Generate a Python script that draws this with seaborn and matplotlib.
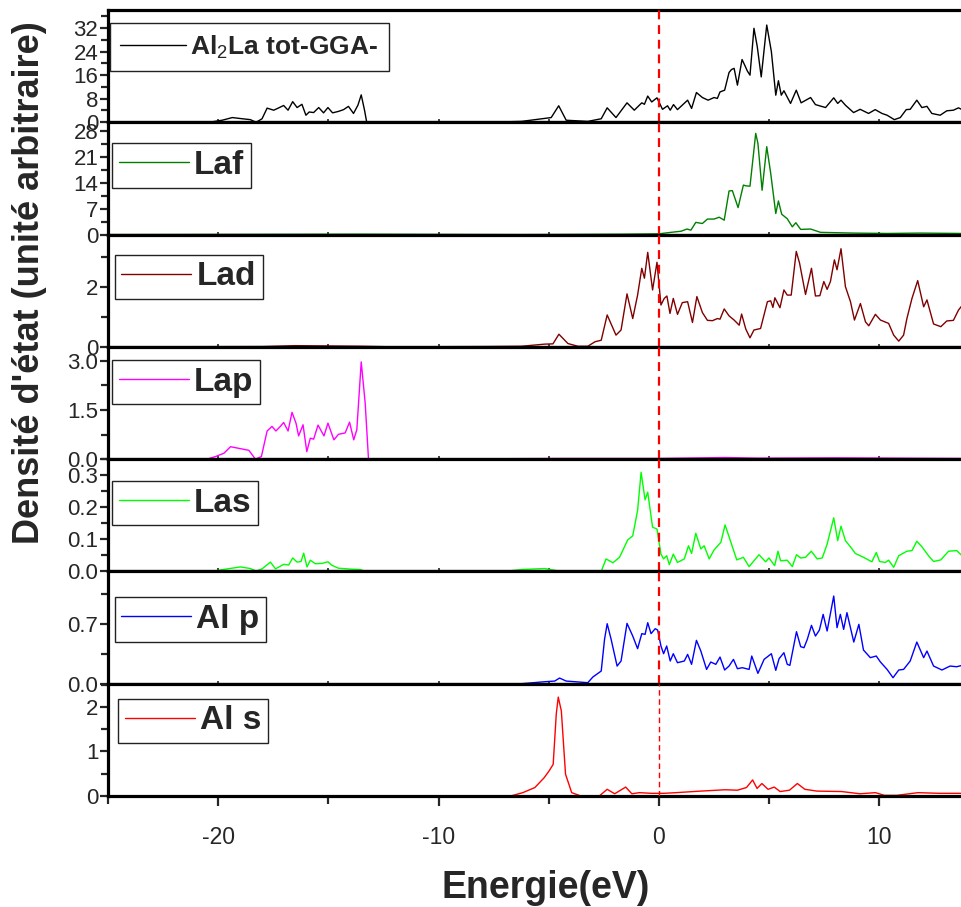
import matplotlib
matplotlib.use("Agg")
import matplotlib.pyplot as plt
from matplotlib import font_manager
from matplotlib.font_manager import FontProperties
from matplotlib.ticker import MultipleLocator, FormatStrFormatter
import pandas as pd
import seaborn as sns

# ---- density of states (energy in eV, DOS in arbitrary units) ----
TOT = [(-25, 0), (-20.42, 0), (-19.82, 0.7), (-19.36, 1.6), (-18.91, 1.2), (-18.54, 0.9),
       (-18.28, 0), (-18.01, 1.2), (-17.78, 4.8), (-17.48, 4.1), (-17.25, 4.9), (-17.03, 5.7),
       (-16.83, 4.1), (-16.62, 7.0), (-16.42, 5.0), (-16.20, 6.1), (-16.02, 2.4), (-15.87, 3.5),
       (-15.67, 3.3), (-15.44, 5.0), (-15.22, 3.2), (-15.02, 5.0), (-14.81, 3.2), (-14.54, 3.7),
       (-14.31, 4.3), (-14.09, 5.4), (-13.86, 3.0), (-13.66, 5.8), (-13.51, 9.3), (-13.36, 4.1),
       (-13.26, 0), (-10, 0), (-7.5, 0.05), (-6.24, 0.3), (-4.89, 1.6), (-4.55, 5.6), (-4.21, 0.7),
       (-3.23, 0.3), (-2.62, 1.2), (-2.35, 4.9), (-1.95, 1.6), (-1.45, 6.6), (-1.12, 4.1),
       (-0.78, 6.6), (-0.66, 6.1), (-0.51, 8.9), (-0.33, 6.9), (-0.09, 8.3), (0.16, 4.4),
       (0.39, 5.6), (0.51, 4.1), (0.66, 6.0), (0.84, 4.3), (1.30, 7.5), (1.48, 4.7), (1.70, 10.1),
       (1.97, 8.4), (2.23, 7.5), (2.50, 8.4), (2.65, 8.1), (2.77, 10.3), (2.98, 10.9), (3.18, 16.9),
       (3.29, 17.9), (3.41, 18.3), (3.56, 12.6), (3.77, 21.3), (3.89, 19.4), (4.01, 17.4),
       (4.13, 16.0), (4.31, 31.9), (4.46, 25.7), (4.64, 15.4), (4.89, 33.0), (5.10, 24.0),
       (5.30, 9.2), (5.42, 14.1), (5.55, 9.2), (5.67, 10.7), (5.97, 6.4), (6.23, 10.9), (6.45, 6.6),
       (6.88, 8.4), (7.10, 6.0), (7.56, 5.0), (7.93, 8.3), (8.11, 6.4), (8.26, 7.5), (8.46, 5.8),
       (8.83, 3.3), (9.13, 4.4), (9.51, 3.0), (9.81, 4.3), (10.12, 3.0), (10.35, 2.4), (10.68, 0.9),
       (10.95, 1.6), (11.22, 4.3), (11.40, 4.4), (11.70, 7.5), (11.93, 5.0), (12.16, 5.4),
       (12.38, 3.0), (12.76, 2.4), (13.06, 3.9), (13.36, 4.1), (13.59, 4.9), (13.75, 4.3)]

LA_F = [(-25, 0), (-20, 0.05), (-13.5, 0.1), (-6.24, 0), (-1.72, 0.1), (0, 0.2), (0.54, 0.6),
        (1.0, 0.9), (1.27, 1.5), (1.45, 1.2), (1.67, 3.3), (1.97, 3.0), (2.20, 4.2), (2.50, 4.2),
        (2.73, 4.7), (2.96, 3.9), (3.18, 11.8), (3.33, 11.9), (3.59, 7.3), (3.83, 13.4),
        (3.94, 13.2), (4.13, 13.1), (4.39, 27.4), (4.49, 24.7), (4.68, 12.0), (4.89, 23.8),
        (5.07, 16.6), (5.30, 5.7), (5.42, 9.1), (5.57, 5.5), (5.82, 4.3), (6.05, 2.1), (6.21, 3.2),
        (6.43, 1.4), (6.88, 1.5), (7.33, 0.6), (8.08, 0.5), (8.84, 0.4), (10.35, 0.3),
        (11.85, 0.4), (13.75, 0.3)]

LA_D = [(-25, 0), (-18, 0.01), (-16.5, 0.04), (-15, 0.03), (-13.5, 0.02), (-12, 0), (-8, 0.01),
        (-6.24, 0.02), (-5.19, 0.09), (-4.81, 0.1), (-4.54, 0.42), (-4.13, 0.11), (-3.68, 0.02),
        (-3.23, 0.02), (-2.90, 0.17), (-2.62, 0.22), (-2.35, 1.06), (-1.95, 0.39), (-1.72, 0.56),
        (-1.45, 1.76), (-1.19, 0.94), (-0.97, 1.72), (-0.78, 2.61), (-0.66, 2.28), (-0.51, 3.14),
        (-0.29, 1.89), (-0.09, 2.81), (0.09, 1.39), (0.24, 1.61), (0.36, 1.69), (0.50, 1.11),
        (0.65, 1.61), (0.84, 1.08), (1.06, 1.47), (1.30, 1.5), (1.52, 0.81), (1.72, 1.67),
        (1.97, 1.14), (2.20, 0.88), (2.43, 0.87), (2.65, 0.94), (2.77, 0.92), (2.96, 1.26),
        (3.18, 1.03), (3.41, 0.89), (3.64, 0.72), (3.75, 1.09), (3.94, 0.59), (4.13, 0.3),
        (4.31, 0.56), (4.61, 0.61), (4.92, 1.5), (5.07, 1.53), (5.17, 1.31), (5.26, 1.63),
        (5.49, 1.3), (5.67, 1.89), (5.82, 1.72), (6.00, 1.72), (6.23, 3.17), (6.38, 2.78),
        (6.65, 1.74), (6.92, 2.61), (7.10, 1.69), (7.30, 1.7), (7.48, 2.17), (7.63, 1.91),
        (7.78, 2.17), (7.96, 2.89), (8.08, 2.56), (8.26, 3.26), (8.46, 2.0), (8.69, 1.5),
        (8.87, 0.89), (9.14, 1.44), (9.37, 0.83), (9.52, 0.7), (9.82, 1.08), (10.05, 0.89),
        (10.42, 0.78), (10.65, 0.39), (10.88, 0.19), (11.10, 0.39), (11.25, 0.94), (11.48, 1.61),
        (11.74, 2.2), (12.01, 1.33), (12.16, 1.56), (12.46, 0.76), (12.79, 0.67), (13.06, 0.86),
        (13.36, 0.88), (13.59, 1.22), (13.75, 1.37)]

LA_P = [(-25, 0), (-20.5, 0), (-20.12, 0.08), (-19.74, 0.18), (-19.44, 0.38), (-19.14, 0.34),
        (-18.61, 0.27), (-18.31, 0), (-18.04, 0.08), (-17.78, 0.86), (-17.56, 1.0), (-17.38, 0.86),
        (-17.18, 1.0), (-17.03, 1.12), (-16.83, 0.86), (-16.65, 1.43), (-16.47, 1.1),
        (-16.35, 0.71), (-16.15, 1.05), (-15.98, 0.23), (-15.82, 0.64), (-15.67, 0.61),
        (-15.47, 1.04), (-15.20, 0.71), (-15.02, 1.1), (-14.75, 0.59), (-14.54, 0.76),
        (-14.24, 0.8), (-14.04, 1.13), (-13.85, 0.59), (-13.71, 0.9), (-13.51, 2.97),
        (-13.33, 1.71), (-13.18, 0), (-12, 0), (-4.5, 0.02), (0, 0.02), (3, 0.05), (4.5, 0.03),
        (8, 0.04), (13.75, 0.02)]

LA_S = [(-25, 0), (-20.27, 0), (-19.67, 0.007), (-18.99, 0.014), (-18.54, 0.009), (-18.28, 0.001),
        (-18.01, 0.008), (-17.63, 0.029), (-17.40, 0.008), (-17.03, 0.022), (-16.80, 0.02),
        (-16.62, 0.042), (-16.42, 0.029), (-16.24, 0.031), (-16.12, 0.057), (-15.97, 0.014),
        (-15.82, 0.035), (-15.59, 0.024), (-15.29, 0.025), (-15.02, 0.03), (-14.84, 0.019),
        (-14.54, 0.01), (-13.94, 0.007), (-13.56, 0.006), (-13.33, 0), (-7.0, 0), (-6.24, 0.006),
        (-5.19, 0.009), (-4.43, 0), (-2.62, 0), (-2.40, 0.039), (-2.09, 0.027), (-1.79, 0.044),
        (-1.42, 0.098), (-1.19, 0.111), (-0.97, 0.19), (-0.81, 0.309), (-0.63, 0.223),
        (-0.51, 0.247), (-0.29, 0.138), (-0.09, 0.132), (0.09, 0.054), (0.21, 0.039),
        (0.35, 0.049), (0.47, 0.021), (0.65, 0.054), (0.84, 0.028), (1.15, 0.039), (1.34, 0.08),
        (1.48, 0.056), (1.67, 0.119), (1.90, 0.07), (2.05, 0.08), (2.28, 0.039), (2.50, 0.067),
        (2.81, 0.091), (3.00, 0.145), (3.18, 0.108), (3.53, 0.036), (3.83, 0.044), (4.09, 0.015),
        (4.54, 0.052), (4.84, 0.03), (4.99, 0.042), (5.25, 0.018), (5.40, 0.063), (5.52, 0.033),
        (5.82, 0.035), (6.05, 0.015), (6.24, 0.052), (6.43, 0.042), (6.65, 0.044), (6.91, 0.063),
        (7.18, 0.039), (7.41, 0.042), (7.63, 0.085), (7.93, 0.167), (8.11, 0.096), (8.26, 0.141),
        (8.46, 0.096), (8.73, 0.073), (8.91, 0.056), (9.28, 0.044), (9.66, 0.03), (9.86, 0.059),
        (10.01, 0.031), (10.27, 0.028), (10.42, 0.035), (10.65, 0.013), (10.88, 0.049),
        (11.25, 0.063), (11.48, 0.065), (11.70, 0.094), (11.93, 0.077), (12.23, 0.049),
        (12.46, 0.031), (12.79, 0.036), (13.14, 0.063), (13.51, 0.065), (13.75, 0.049)]

AL_P = [(-25, 0), (-6.24, 0), (-5.19, 0.023), (-4.73, 0.031), (-4.51, 0.066), (-4.21, 0.031),
        (-3.23, 0.012), (-3.00, 0.078), (-2.62, 0.148), (-2.47, 0.517), (-2.35, 0.70),
        (-2.17, 0.517), (-1.90, 0.206), (-1.72, 0.265), (-1.45, 0.704), (-1.19, 0.556),
        (-0.97, 0.409), (-0.78, 0.584), (-0.63, 0.576), (-0.51, 0.712), (-0.36, 0.584),
        (-0.17, 0.642), (-0.06, 0.626), (0.09, 0.44), (0.21, 0.35), (0.35, 0.44), (0.51, 0.265),
        (0.65, 0.35), (0.84, 0.245), (1.15, 0.265), (1.30, 0.342), (1.48, 0.226), (1.70, 0.506),
        (1.90, 0.381), (2.16, 0.167), (2.35, 0.253), (2.58, 0.226), (2.77, 0.311), (2.98, 0.16),
        (3.18, 0.206), (3.38, 0.284), (3.56, 0.175), (3.78, 0.187), (4.09, 0.167), (4.21, 0.323),
        (4.49, 0.121), (4.77, 0.284), (5.10, 0.35), (5.30, 0.156), (5.45, 0.292), (5.67, 0.362),
        (5.82, 0.226), (5.94, 0.214), (6.24, 0.607), (6.43, 0.432), (6.58, 0.42), (6.73, 0.517),
        (6.92, 0.681), (7.10, 0.556), (7.28, 0.626), (7.45, 0.809), (7.63, 0.615), (7.93, 1.023),
        (8.08, 0.654), (8.23, 0.809), (8.38, 0.634), (8.53, 0.829), (8.84, 0.486), (9.07, 0.693),
        (9.28, 0.393), (9.59, 0.304), (9.86, 0.323), (10.05, 0.253), (10.35, 0.167),
        (10.62, 0.07), (10.88, 0.16), (11.10, 0.167), (11.40, 0.265), (11.70, 0.486),
        (12.01, 0.304), (12.16, 0.381), (12.46, 0.206), (12.84, 0.16), (13.21, 0.206),
        (13.51, 0.198), (13.75, 0.214)]

AL_S = [(-25, 0), (-6.73, 0), (-6.18, 0.075), (-5.63, 0.19), (-5.21, 0.41), (-4.99, 0.56),
        (-4.80, 0.71), (-4.66, 1.84), (-4.57, 2.22), (-4.43, 1.91), (-4.24, 0.49), (-3.96, 0.075),
        (-3.54, 0), (-2.71, 0), (-2.35, 0.15), (-2.01, 0.05), (-1.51, 0.2), (-1.23, 0.05),
        (-0.89, 0.075), (-0.34, 0.06), (0.22, 0.06), (0.77, 0.075), (1.89, 0.11), (3.0, 0.14),
        (3.56, 0.13), (3.97, 0.19), (4.25, 0.36), (4.45, 0.17), (4.67, 0.28), (4.95, 0.15),
        (5.23, 0.2), (5.50, 0.1), (5.92, 0.13), (6.28, 0.28), (6.62, 0.15), (7.17, 0.11),
        (8.29, 0.1), (9.12, 0.05), (9.82, 0.075), (10.23, 0.015), (10.79, 0.015), (11.76, 0.075),
        (12.73, 0.06), (13.75, 0.06)]

SERIES = [TOT, LA_F, LA_D, LA_P, LA_S, AL_P, AL_S]
LABELS = [r"Al$_2$La tot-GGA-", "Laf", "Lad", "Lap", "Las", "Al p", "Al s"]
COLORS = ["black", "#008000", "#800000", "#ff00ff", "#00ff00", "#0000ff", "#ff0000"]
Y_MAX = [38.1, 30.4, 3.73, 3.43, 0.35, 1.31, 2.52]
Y_MAJOR = [8, 7, 2, 1.5, 0.1, 0.7, 1]
Y_FMT = ["%d", "%d", "%d", "%.1f", "%.1f", "%.1f", "%d"]
X_LIM = (-25, 13.75)

# ---- styling ----
sns.set_style("white")
names = {f.name for f in font_manager.fontManager.ttflist}
NARROW = "Liberation Sans Narrow" if "Liberation Sans Narrow" in names else "Liberation Sans"
plt.rcParams["font.family"] = ["Liberation Sans", "DejaVu Sans"]
plt.rcParams["axes.unicode_minus"] = False
plt.rcParams["mathtext.fontset"] = "custom"
plt.rcParams["mathtext.rm"] = NARROW
plt.rcParams["mathtext.it"] = NARROW
plt.rcParams["mathtext.bf"] = NARROW + ":bold"

fig = plt.figure(figsize=(9.62, 9.07), dpi=100)
gs = fig.add_gridspec(7, 1, left=108 / 962, right=1.0, top=1 - 10 / 907,
                      bottom=1 - 796 / 907, hspace=0)

legend_anchor = [(0.002, 0.884), (0.005, 0.813), (0.008, 0.822), (0.005, 0.884),
                 (0.005, 0.804), (0.008, 0.768), (0.012, 0.866)]
legend_size = [19, 24, 24, 24, 24, 24, 24]
legend_hlen = [2.5, 2.1, 2.1, 2.1, 2.1, 2.1, 2.1]
legend_pad = [0.4, 0.2, 0.2, 0.2, 0.2, 0.2, 0.2]

axes = []
for i, pts in enumerate(SERIES):
    ax = fig.add_subplot(gs[i])
    axes.append(ax)
    df = pd.DataFrame(pts, columns=["energy", "dos"])
    sns.lineplot(data=df, x="energy", y="dos", ax=ax, color=COLORS[i], lw=1.0,
                 estimator=None, sort=False, label=LABELS[i])
    ax.axvline(0, color="red", lw=1.6 if i < 6 else 1.0, ls=(0, (4, 2.6)), zorder=3)

    ax.set_xlim(*X_LIM)
    ax.set_ylim(0, Y_MAX[i])
    ax.set_xlabel("")
    ax.set_ylabel("")
    ax.yaxis.set_major_locator(MultipleLocator(Y_MAJOR[i]))
    ax.yaxis.set_minor_locator(MultipleLocator(Y_MAJOR[i] / 2))
    ax.yaxis.set_major_formatter(FormatStrFormatter(Y_FMT[i]))
    ax.xaxis.set_major_locator(MultipleLocator(10))
    ax.xaxis.set_minor_locator(MultipleLocator(5))

    for side in ("left", "top", "bottom"):
        ax.spines[side].set_linewidth(2.3)
        ax.spines[side].set_color("black")
    ax.spines["right"].set_visible(False)

    ax.tick_params(axis="y", which="major", direction="out", length=6, width=1.6,
                   labelsize=16, pad=1, left=True)
    ax.tick_params(axis="y", which="minor", direction="out", length=5, width=1.6, left=True)
    if i < 6:
        ax.tick_params(axis="x", which="both", direction="inout", length=4, width=1.2,
                       bottom=True, labelbottom=False)
    else:
        ax.tick_params(axis="x", which="major", direction="out", length=7.5, width=1.6,
                       bottom=True, labelsize=16.5, pad=14)
        ax.tick_params(axis="x", which="minor", direction="out", length=6, width=1.6,
                       bottom=True)

    leg = ax.legend(loc="upper left", bbox_to_anchor=legend_anchor[i], borderaxespad=0,
                    frameon=True, fancybox=False, framealpha=1, edgecolor="#222222",
                    handlelength=legend_hlen[i], handletextpad=0.15, borderpad=legend_pad[i],
                    prop=FontProperties(family=[NARROW, "DejaVu Sans"], weight="bold",
                                        size=legend_size[i]))
    leg.get_frame().set_linewidth(1.0)
    for ln in leg.get_lines():
        ln.set_linewidth(1.0)

fig.text(0.031, 0.688, "Densité d'état (unité arbitraire)", rotation=90, ha="center",
         va="center", fontsize=26, fontweight="bold")
fig.text(0.567, 0.021, "Energie(eV)", ha="center", va="center", fontsize=27,
         fontweight="bold")

fig.savefig("out.png", dpi=100)
